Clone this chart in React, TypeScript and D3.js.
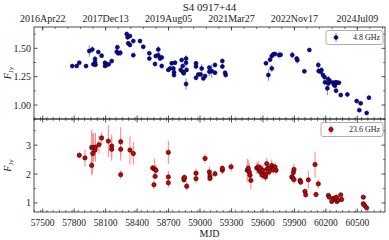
import React from "react";
import * as d3 from "d3";

const title = "S4 0917+44";
const topDateLabels = ["2016Apr22", "2017Dec13", "2019Aug05", "2021Mar27", "2022Nov17", "2024Jul09"];
const topDateMjd = [57500, 58100, 58700, 59300, 59900, 60500];
const xTicks = [57500, 57800, 58100, 58400, 58700, 59000, 59300, 59600, 59900, 60200, 60500];
const yTicksTop = [1.0, 1.25, 1.5];
const yTicksBot = [1, 2, 3];

// 4.8 GHz
const mjd48 = [57782, 57824, 57849, 57913, 57944, 57973, 57983, 57999, 57999, 58003, 58030, 58062, 58094, 58094, 58110, 58129, 58158, 58206, 58212, 58221, 58240, 58301, 58310, 58332, 58316, 58332, 58364, 58364, 58428, 58459, 58517, 58517, 58571, 58578, 58602, 58602, 58619, 58635, 58635, 58698, 58714, 58730, 58746, 58752, 58752, 58762, 58816, 58825, 58835, 58835, 58845, 58867, 58867, 58867, 58872, 58962, 58962, 58962, 58984, 59006, 59016, 59032, 59048, 59089, 59089, 59112, 59143, 59143, 59213, 59213, 59239, 59245, 59629, 59652, 59668, 59684, 59684, 59699, 59715, 59753, 59769, 59880, 59922, 59928, 59995, 60043, 60128, 60131, 60151, 60158, 60173, 60189, 60192, 60214, 60224, 60224, 60240, 60271, 60277, 60287, 60295, 60305, 60325, 60297, 60342, 60405, 60494, 60519, 60532, 60589, 60611];
const flux48 = [1.344, 1.344, 1.373, 1.344, 1.476, 1.49, 1.36, 1.377, 1.406, 1.355, 1.467, 1.435, 1.373, 1.344, 1.355, 1.36, 1.388, 1.47, 1.51, 1.456, 1.46, 1.626, 1.597, 1.608, 1.544, 1.53, 1.564, 1.44, 1.564, 1.514, 1.456, 1.41, 1.362, 1.432, 1.49, 1.44, 1.41, 1.42, 1.344, 1.31, 1.323, 1.368, 1.323, 1.264, 1.29, 1.373, 1.31, 1.397, 1.344, 1.294, 1.28, 1.373, 1.41, 1.185, 1.31, 1.368, 1.34, 1.24, 1.27, 1.27, 1.323, 1.235, 1.256, 1.294, 1.33, 1.3, 1.353, 1.285, 1.388, 1.34, 1.285, 1.265, 1.368, 1.264, 1.4, 1.323, 1.432, 1.447, 1.45, 1.441, 1.443, 1.441, 1.41, 1.395, 1.297, 1.485, 1.353, 1.3, 1.294, 1.31, 1.264, 1.245, 1.2, 1.147, 1.227, 1.19, 1.21, 1.197, 1.18, 1.17, 1.2, 1.197, 1.197, 1.127, 1.088, 1.094, 1.035, 0.955, 1.015, 0.93, 1.065];
const err48 = [0.01, 0.01, 0.01, 0.01, 0.05, 0.03, 0.02, 0.03, 0.03, 0.02, 0.015, 0.02, 0.02, 0.015, 0.02, 0.015, 0.02, 0.03, 0.02, 0.02, 0.03, 0.02, 0.02, 0.015, 0.02, 0.02, 0.015, 0.02, 0.01, 0.015, 0.02, 0.02, 0.02, 0.02, 0.03, 0.02, 0.02, 0.02, 0.02, 0.015, 0.02, 0.02, 0.02, 0.02, 0.02, 0.02, 0.02, 0.02, 0.02, 0.02, 0.02, 0.04, 0.03, 0.05, 0.02, 0.02, 0.015, 0.02, 0.015, 0.015, 0.04, 0.015, 0.015, 0.04, 0.02, 0.06, 0.02, 0.02, 0.02, 0.02, 0.02, 0.02, 0.02, 0.05, 0.02, 0.03, 0.02, 0.02, 0.02, 0.03, 0.02, 0.03, 0.02, 0.03, 0.02, 0.01, 0.03, 0.02, 0.02, 0.02, 0.02, 0.02, 0.02, 0.06, 0.03, 0.02, 0.02, 0.02, 0.02, 0.02, 0.02, 0.02, 0.015, 0.02, 0.015, 0.02, 0.015, 0.015, 0.015, 0.01, 0.02];

// 23.6 GHz
const mjd236 = [57849, 57903, 57967, 57977, 57967, 57985, 57999, 58003, 58037, 58062, 58126, 58158, 58158, 58244, 58244, 58244, 58332, 58364, 58549, 58565, 58580, 58572, 58561, 58698, 58698, 58698, 58847, 58847, 58852, 58873, 58962, 58962, 59048, 59089, 59095, 59095, 59143, 59213, 59213, 59296, 59451, 59460, 59470, 59477, 59485, 59541, 59555, 59565, 59570, 59577, 59585, 59595, 59600, 59624, 59630, 59636, 59642, 59652, 59660, 59684, 59694, 59700, 59715, 59725, 59875, 59885, 59890, 59896, 59896, 59954, 59960, 60001, 60008, 60033, 60097, 60106, 60128, 60224, 60233, 60256, 60275, 60290, 60300, 60305, 60320, 60342, 60350, 60557, 60557, 60570, 60589];
const flux236 = [2.65, 2.56, 2.92, 2.71, 2.3, 2.92, 2.83, 2.93, 3.02, 3.25, 3.14, 2.97, 2.86, 3.12, 2.86, 1.98, 2.83, 2.71, 2.21, 2.18, 2.13, 1.92, 1.63, 2.75, 1.9, 1.7, 1.86, 1.8, 1.88, 1.58, 2.03, 1.84, 2.54, 2.07, 1.93, 1.85, 2.01, 2.13, 2.2, 2.25, 2.13, 2.2, 2.07, 1.96, 1.78, 2.21, 2.25, 2.16, 2.09, 2.2, 2.05, 1.96, 2.13, 1.9, 2.0, 2.36, 2.18, 2.2, 2.08, 2.3, 2.2, 2.15, 2.25, 2.13, 1.9, 1.86, 2.05, 2.16, 1.81, 1.78, 1.72, 1.4, 1.28, 1.8, 2.33, 1.29, 1.66, 1.26, 1.2, 1.05, 1.16, 1.13, 1.2, 1.05, 1.1, 1.28, 1.12, 1.2, 0.97, 0.91, 0.83];
const err236 = [0.1, 0.3, 0.6, 0.7, 0.35, 0.5, 0.3, 0.5, 0.3, 0.2, 0.55, 0.4, 0.4, 0.5, 0.4, 0.15, 0.5, 0.4, 0.1, 0.35, 0.2, 0.1, 0.15, 0.4, 0.2, 0.15, 0.1, 0.1, 0.1, 0.15, 0.15, 0.15, 0.15, 0.2, 0.15, 0.1, 0.1, 0.15, 0.1, 0.15, 0.4, 0.3, 0.3, 0.2, 0.3, 0.2, 0.2, 0.15, 0.2, 0.15, 0.15, 0.15, 0.2, 0.15, 0.15, 0.2, 0.2, 0.2, 0.15, 0.2, 0.15, 0.15, 0.15, 0.15, 0.1, 0.15, 0.15, 0.2, 0.15, 0.1, 0.1, 0.1, 0.1, 0.3, 0.45, 0.1, 0.15, 0.05, 0.05, 0.05, 0.05, 0.05, 0.05, 0.05, 0.05, 0.05, 0.05, 0.05, 0.05, 0.05, 0.05];

const W = 389, H = 240;
const L = 34, R = 385;
const T1 = 27, B1 = 119, T2 = 119, B2 = 212;
const FONT = "'Liberation Serif', 'Times New Roman', serif";

const x = d3.scaleLinear().domain([57417, 60764]).range([L, R]);
const yTop = d3.scaleLinear().domain([0.877, 1.688]).range([B1, T1]);
const yBot = d3.scaleLinear().domain([0.686, 3.906]).range([B2, T2]);

const minorX = d3.range(57420, 60764, 60);
const minorXTop = d3.range(57500 - 120, 60764, 120);

function Panel({ y, top, bottom, mjd, flux, err, fill, stroke, errColor, yTicks, yMinor, yFmt, legend, legendW, r }: any) {
  return (
    <g>
      {/* error bars */}
      {mjd.map((m: number, i: number) => (
        <line key={"e" + i} x1={x(m)} x2={x(m)} y1={y(flux[i] - err[i])} y2={y(flux[i] + err[i])} stroke={errColor} strokeWidth={1} />
      ))}
      {mjd.map((m: number, i: number) => (
        <circle key={"p" + i} cx={x(m)} cy={y(flux[i])} r={r} fill={fill} stroke={stroke} strokeWidth={0.6} />
      ))}
      {/* frame */}
      <rect x={L} y={top} width={R - L} height={bottom - top} fill="none" stroke="#222" strokeWidth={0.8} />
      {/* x ticks bottom & top of panel (inward) */}
      {xTicks.map((t) => (
        <g key={"xt" + t}>
          <line x1={x(t)} x2={x(t)} y1={bottom} y2={bottom - 3.5} stroke="#222" strokeWidth={0.8} />
        </g>
      ))}
      {minorX.map((t) => (
        <line key={"xm" + t} x1={x(t)} x2={x(t)} y1={bottom} y2={bottom - 2} stroke="#222" strokeWidth={0.6} />
      ))}
      {/* y ticks */}
      {yTicks.map((t: number) => (
        <g key={"yt" + t}>
          <line x1={L} x2={L + 3.5} y1={y(t)} y2={y(t)} stroke="#222" strokeWidth={0.8} />
          <line x1={R} x2={R - 3.5} y1={y(t)} y2={y(t)} stroke="#222" strokeWidth={0.8} />
          <text x={L - 3} y={y(t)} dy="0.35em" textAnchor="end" fontSize={10} fontFamily={FONT} fill="#222">{yFmt(t)}</text>
        </g>
      ))}
      {yMinor.map((t: number) => (
        <g key={"ym" + t}>
          <line x1={L} x2={L + 2} y1={y(t)} y2={y(t)} stroke="#222" strokeWidth={0.6} />
          <line x1={R} x2={R - 2} y1={y(t)} y2={y(t)} stroke="#222" strokeWidth={0.6} />
        </g>
      ))}
      {/* y label */}
      <text transform={`translate(11,${(top + bottom) / 2}) rotate(-90)`} textAnchor="middle" fontSize={10} fontFamily={FONT} fill="#222">
        <tspan fontStyle="italic">F</tspan>
        <tspan fontSize={7} dy={2}>Jy</tspan>
      </text>
      {/* legend */}
      <g>
        <rect x={R - 2 - legendW} y={top + 3.5} width={legendW} height={14} rx={2} fill="white" stroke="#999" strokeWidth={0.8} />
        <line x1={R - legendW + 8} x2={R - legendW + 8} y1={top + 6} y2={top + 15} stroke={errColor} strokeWidth={1} />
        <circle cx={R - legendW + 8} cy={top + 10.5} r={r} fill={fill} stroke={stroke} strokeWidth={0.6} />
        <text x={R - 5} y={top + 10.5} dy="0.35em" textAnchor="end" fontSize={8} fontFamily={FONT} fill="#222">{legend}</text>
      </g>
    </g>
  );
}

export default function App() {
  return (
    <svg width={W} height={H} style={{ position: "absolute", left: 0, top: 0, background: "white" }}>
      <rect width={W} height={H} fill="white" />
      <text x={(L + R) / 2} y={10.5} textAnchor="middle" fontSize={11} fontFamily={FONT} fill="#222">{title}</text>
      {/* top date axis */}
      {topDateMjd.map((m, i) => (
        <g key={"td" + m}>
          <line x1={x(m)} x2={x(m)} y1={T1} y2={T1 + 3.5} stroke="#222" strokeWidth={0.8} />
          <text x={x(m)} y={21.5} textAnchor="middle" fontSize={10} fontFamily={FONT} fill="#222">{topDateLabels[i]}</text>
        </g>
      ))}
      {minorXTop.filter((m) => x(m) > L && x(m) < R).map((m) => (
        <line key={"tm" + m} x1={x(m)} x2={x(m)} y1={T1} y2={T1 + 2} stroke="#222" strokeWidth={0.6} />
      ))}
      <Panel y={yTop} top={T1} bottom={B1} mjd={mjd48} flux={flux48} err={err48} fill="#0a0a8c" stroke="#000050" errColor="#7f7fff" yTicks={yTicksTop} yMinor={[1.125, 1.375, 1.625, 0.875]} yFmt={(v: number) => d3.format(".2f")(v)} legend="4.8 GHz" legendW={57} r={2} />
      <Panel y={yBot} top={T2} bottom={B2} mjd={mjd236} flux={flux236} err={err236} fill="#d00000" stroke="#111" errColor="#ff8080" yTicks={yTicksBot} yMinor={[1.5, 2.5, 3.5]} yFmt={(v: number) => String(v)} legend="23.6 GHz" legendW={62} r={2.2} />
      {/* top ticks of bottom panel (downward) */}
      {xTicks.map((t) => (
        <line key={"bt" + t} x1={x(t)} x2={x(t)} y1={T2} y2={T2 + 3.5} stroke="#222" strokeWidth={0.8} />
      ))}
      {minorX.map((t) => (
        <line key={"bm" + t} x1={x(t)} x2={x(t)} y1={T2} y2={T2 + 2} stroke="#222" strokeWidth={0.6} />
      ))}
      {/* bottom tick labels */}
      {xTicks.map((t) => (
        <text key={"bl" + t} x={x(t)} y={225.5} textAnchor="middle" fontSize={9.5} fontFamily={FONT} fill="#222">{t}</text>
      ))}
      <text x={(L + R) / 2} y={237} textAnchor="middle" fontSize={10} fontFamily={FONT} fill="#222">MJD</text>
    </svg>
  );
}
